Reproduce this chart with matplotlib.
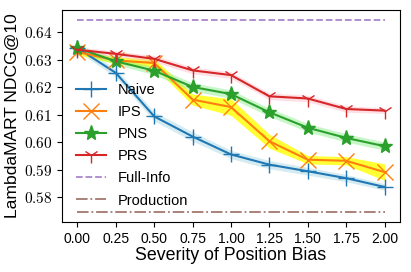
import numpy as np
import matplotlib
matplotlib.use('Agg')
import matplotlib.pyplot as plt

plt.rcParams['font.family'] = ['Liberation Sans', 'DejaVu Sans']
plt.rcParams['mathtext.fontset'] = 'cm'

# Dades llegides del gràfic
bias = [0.00, 0.25, 0.50, 0.75, 1.00, 1.25, 1.50, 1.75, 2.00]
naive = [0.6342, 0.6252, 0.6094, 0.6021, 0.5956, 0.5919, 0.5895, 0.5870, 0.5838]
ips = [0.6328, 0.6297, 0.6288, 0.6155, 0.6128, 0.6004, 0.5937, 0.5933, 0.5892]
pns = [0.6342, 0.6294, 0.6260, 0.6201, 0.6175, 0.6109, 0.6053, 0.6016, 0.5986]
prs = [0.6336, 0.6321, 0.6303, 0.6261, 0.6244, 0.6167, 0.6159, 0.6121, 0.6115]
naive_err = [0.0012, 0.0015, 0.0017, 0.0017, 0.0015, 0.0015, 0.0014, 0.0013, 0.0012]
ips_err = [0.0010, 0.0012, 0.0015, 0.0020, 0.0030, 0.0025, 0.0015, 0.0015, 0.0030]
pns_err = [0.0012, 0.0012, 0.0015, 0.0015, 0.0015, 0.0015, 0.0015, 0.0015, 0.0015]
prs_err = [0.0010, 0.0010, 0.0012, 0.0012, 0.0012, 0.0012, 0.0012, 0.0012, 0.0010]
full_info = 0.6445
production = 0.5746
yticks = [0.58, 0.59, 0.60, 0.61, 0.62, 0.63, 0.64]

fig, ax = plt.subplots(figsize=(4.11, 2.72), dpi=100)

series = [
    ('Naive', naive, naive_err, 'tab:blue', 'lightblue', '+'),
    ('IPS', ips, ips_err, 'tab:orange', 'yellow', 'x'),
    ('PNS', pns, pns_err, 'tab:green', 'lightgreen', '*'),
    ('PRS', prs, prs_err, 'tab:red', 'pink', '1'),
]
x = np.array(bias)
for name, vals, err, color, fill, marker in series:
    vals = np.array(vals)
    err = np.array(err)
    ax.fill_between(x, vals - err, vals + err, color=fill,
                    alpha=0.8 if fill == 'yellow' else 0.5, linewidth=0)
    ax.plot(x, vals, color=color, marker=marker, markersize=11, linewidth=1.5, label=name)

ax.plot(x, [full_info] * len(x), '--', color='tab:purple', alpha=0.8, linewidth=1.3, label='Full-Info')
ax.plot(x, [production] * len(x), '-.', color='tab:brown', alpha=0.8, linewidth=1.3, label='Production')

ax.set_xticks(bias)
ax.set_xticklabels(['%.2f' % b for b in bias], fontsize=10)
ax.set_yticks(yticks)
ax.set_yticklabels([r'$%.2f$' % v for v in yticks], fontsize=11)

ax.set_xlabel('Severity of Position Bias', fontsize=12.8, labelpad=1)
ax.set_ylabel('LambdaMART NDCG@10', fontsize=12.6, labelpad=3)
ax.legend(loc='lower left', frameon=False, fontsize=10.5, handlelength=2.1,
          borderaxespad=0.3, labelspacing=0.55, bbox_to_anchor=(0.01, 0.02))

plt.subplots_adjust(left=0.151, right=0.973, top=0.963, bottom=0.184)
fig.savefig('out.png', dpi=100)
